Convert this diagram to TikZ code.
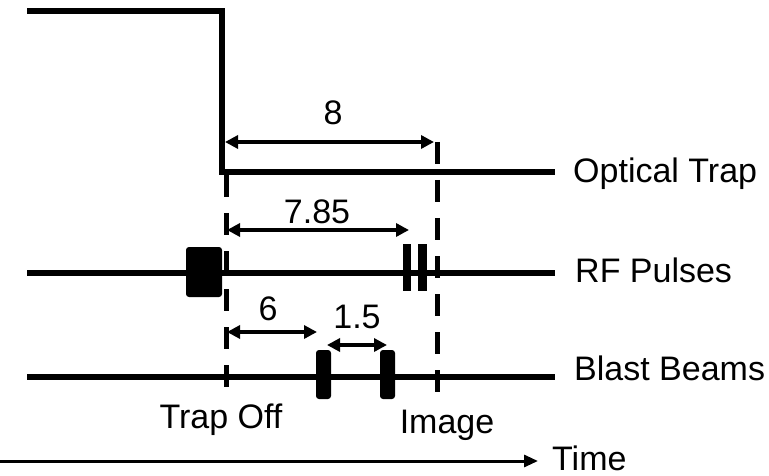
\documentclass[tikz,border=0pt]{standalone}
\usepackage{fontspec}
\setmainfont{Liberation Sans}
\usetikzlibrary{arrows.meta}
\begin{document}
\begin{tikzpicture}[x=1pt,y=-1pt,
  sig/.style={line width=6pt},
  dashv/.style={line width=5pt,dash pattern=on 22pt off 16pt},
  dim/.style={line width=3.5pt,{Triangle[length=13pt,width=13pt]}-{Triangle[length=13pt,width=13pt]}},
  lbl/.style={inner sep=0pt,anchor=base west,font=\fontsize{34}{40}\selectfont},
  clbl/.style={inner sep=0pt,anchor=base,font=\fontsize{34}{40}\selectfont},
  pulse/.style={fill=black,draw=none,rounded corners=3pt}]
\useasboundingbox (0,0) rectangle (769,476);
% optical trap
\coordinate (ot0) at (27,11);
\coordinate (otc) at (222,11);
\coordinate (otd) at (222,172);
\coordinate (ot1) at (555,172);
\draw[sig,line join=miter] (ot0) -- (otc) -- (otd) -- (ot1);
% RF line
\coordinate (rf0) at (27,273);
\coordinate (rf1) at (555,273);
\draw[sig] (rf0) -- (rf1);
% Blast line
\coordinate (bb0) at (27,377);
\coordinate (bb1) at (555,377);
\draw[sig] (bb0) -- (bb1);
% pulses
\fill[pulse] (186,247) rectangle (222,297);
\fill[black] (403,244) rectangle (411,291);
\fill[black] (418,244) rectangle (427,291);
\fill[pulse] (316,350) rectangle (331,399);
\fill[pulse] (380,350) rectangle (395,399);
% dashed lines
\coordinate (dl0) at (226,175);
\coordinate (dl1) at (226,389);
\draw[dashv] (dl0) -- (dl1);
\coordinate (dr0) at (437,142);
\coordinate (dr1) at (437,392);
\draw[dashv] (dr0) -- (dr1);
% dimension arrows
\coordinate (a8l) at (225,142);
\coordinate (a8r) at (434,142);
\draw[dim] (a8l) -- (a8r);
\coordinate (a785l) at (227,230);
\coordinate (a785r) at (409,230);
\draw[dim] (a785l) -- (a785r);
\coordinate (a6l) at (227,332);
\coordinate (a6r) at (317,332);
\draw[dim] (a6l) -- (a6r);
\coordinate (a15l) at (327,345);
\coordinate (a15r) at (387,345);
\draw[dim] (a15l) -- (a15r);
% labels
\node[clbl] (l8) at (333,125) {8};
\node[clbl] (l785) at (317,223) {7.85};
\node[clbl] (l6) at (268,320) {6};
\node[clbl] (l15) at (357,328) {1.5};
\node[lbl] (lot) at (573,183) {Optical Trap};
\node[lbl] (lrf) at (575,282) {RF Pulses};
\node[lbl] (lbb) at (574,380) {Blast Beams};
\node[clbl] (ltoff) at (221,428) {Trap Off};
\node[clbl] (limg) at (447,433) {Image};
% time axis
\node[lbl] (ltime) at (552,470) {Time};
\coordinate (t0) at (0,461);
\coordinate (t1) at (538,461);
\draw[line width=3pt,-{Triangle[length=14pt,width=12pt]}] (t0) -- (t1);
\end{tikzpicture}
\end{document}
